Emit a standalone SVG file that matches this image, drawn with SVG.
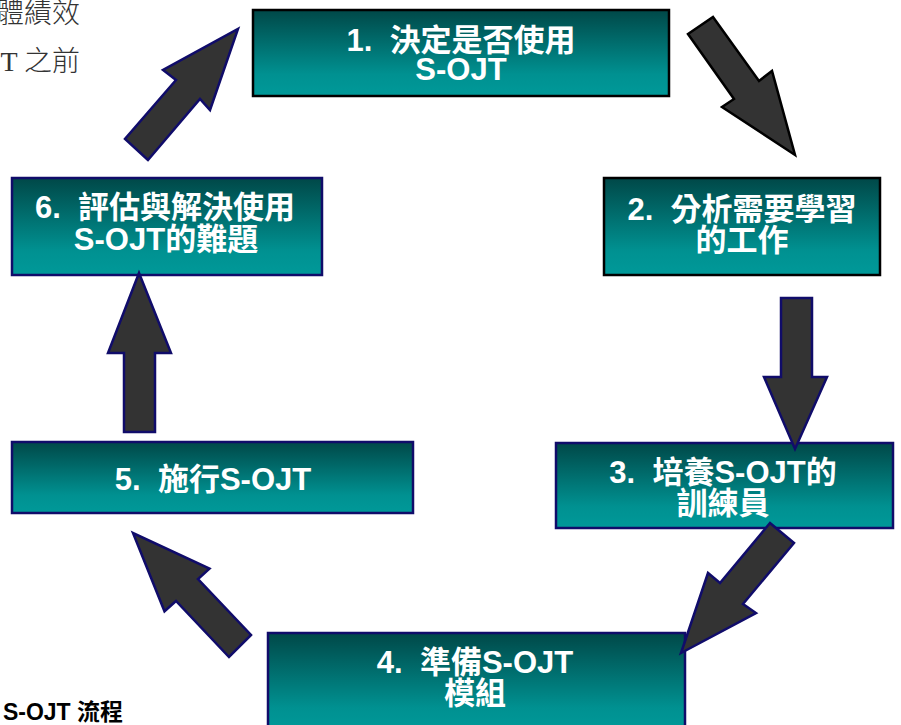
<svg xmlns="http://www.w3.org/2000/svg" width="901" height="725" viewBox="0 0 901 725">
<style>
.box{stroke-width:2.5}
.k{stroke:#000000}
.n{stroke:#100c6a}
.t{font-family:"Liberation Sans","Noto Sans CJK TC",sans-serif;font-weight:bold;font-size:31px;fill:#ffffff;text-anchor:middle}
.arr{fill:#333333;stroke-width:2.5;stroke-linejoin:miter}
.note{font-family:"Liberation Serif","Noto Sans CJK TC",serif;font-weight:300;font-size:28px;fill:#333333;text-anchor:end}
.cap{font-family:"Liberation Sans","Noto Sans CJK TC",sans-serif;font-weight:bold;font-size:23px;fill:#000000;text-anchor:end}
</style>
<defs>
<linearGradient id="g" x1="0" y1="0" x2="0" y2="1">
<stop offset="0" stop-color="#004848"/>
<stop offset="0.75" stop-color="#009191"/>
<stop offset="1" stop-color="#009999"/>
</linearGradient>
</defs>
<rect width="901" height="725" fill="#ffffff"/>
<text class="note" x="80" y="23">體績效</text>
<text class="note" x="80" y="71" xml:space="preserve">T 之前</text>
<text class="cap" x="123" y="720">S-OJT 流程</text>
<g id="node1">
<rect class="box k" x="253" y="10" width="416" height="86" fill="url(#g)"/>
<text class="t" x="461" y="51" xml:space="preserve">1.  決定是否使用</text>
<text class="t" x="461" y="80">S-OJT</text>
</g>
<g id="node2">
<rect class="box k" x="604" y="178" width="276" height="97" fill="url(#g)"/>
<text class="t" x="742" y="220" xml:space="preserve">2.  分析需要學習</text>
<text class="t" x="742" y="251">的工作</text>
</g>
<g id="node3">
<rect class="box n" x="556" y="443" width="337" height="85" fill="url(#g)"/>
<text class="t" x="723" y="483" xml:space="preserve">3.  培養S-OJT的</text>
<text class="t" x="723" y="514">訓練員</text>
</g>
<g id="node4">
<rect class="box n" x="268" y="633" width="417" height="100" fill="url(#g)"/>
<text class="t" x="475" y="673" xml:space="preserve">4.  準備S-OJT</text>
<text class="t" x="475" y="704">模組</text>
</g>
<g id="node5">
<rect class="box n" x="12" y="442" width="401" height="71" fill="url(#g)"/>
<text class="t" x="213" y="490" xml:space="preserve">5.  施行S-OJT</text>
</g>
<g id="node6">
<rect class="box n" x="12" y="178" width="310" height="97" fill="url(#g)"/>
<text class="t" x="165" y="218" xml:space="preserve">6.  評估與解決使用</text>
<text class="t" x="166" y="250">S-OJT的難題</text>
</g>
<g id="connectors">
<polygon class="arr k" points="688,34 713,17 759,81 772,71 795,155 722,107 734,99"/>
<polygon class="arr n" points="781,298 812,298 812,377 827,377 795,449 764,377 781,377"/>
<polygon class="arr n" points="770,523 794,543 743,604 756,613 681,653 708,573 720,583"/>
<polygon class="arr n" points="251,635 229,657 176,601 164.5,611.3 133,533 209.5,568.7 198,579"/>
<polygon class="arr n" points="155,432 124,432 124,353 108,353 139,273 171,353 155,353"/>
<polygon class="arr n" points="148,160 125,139 176,80 163,70 238,29 210,110 200,99"/>
</g>
</svg>
